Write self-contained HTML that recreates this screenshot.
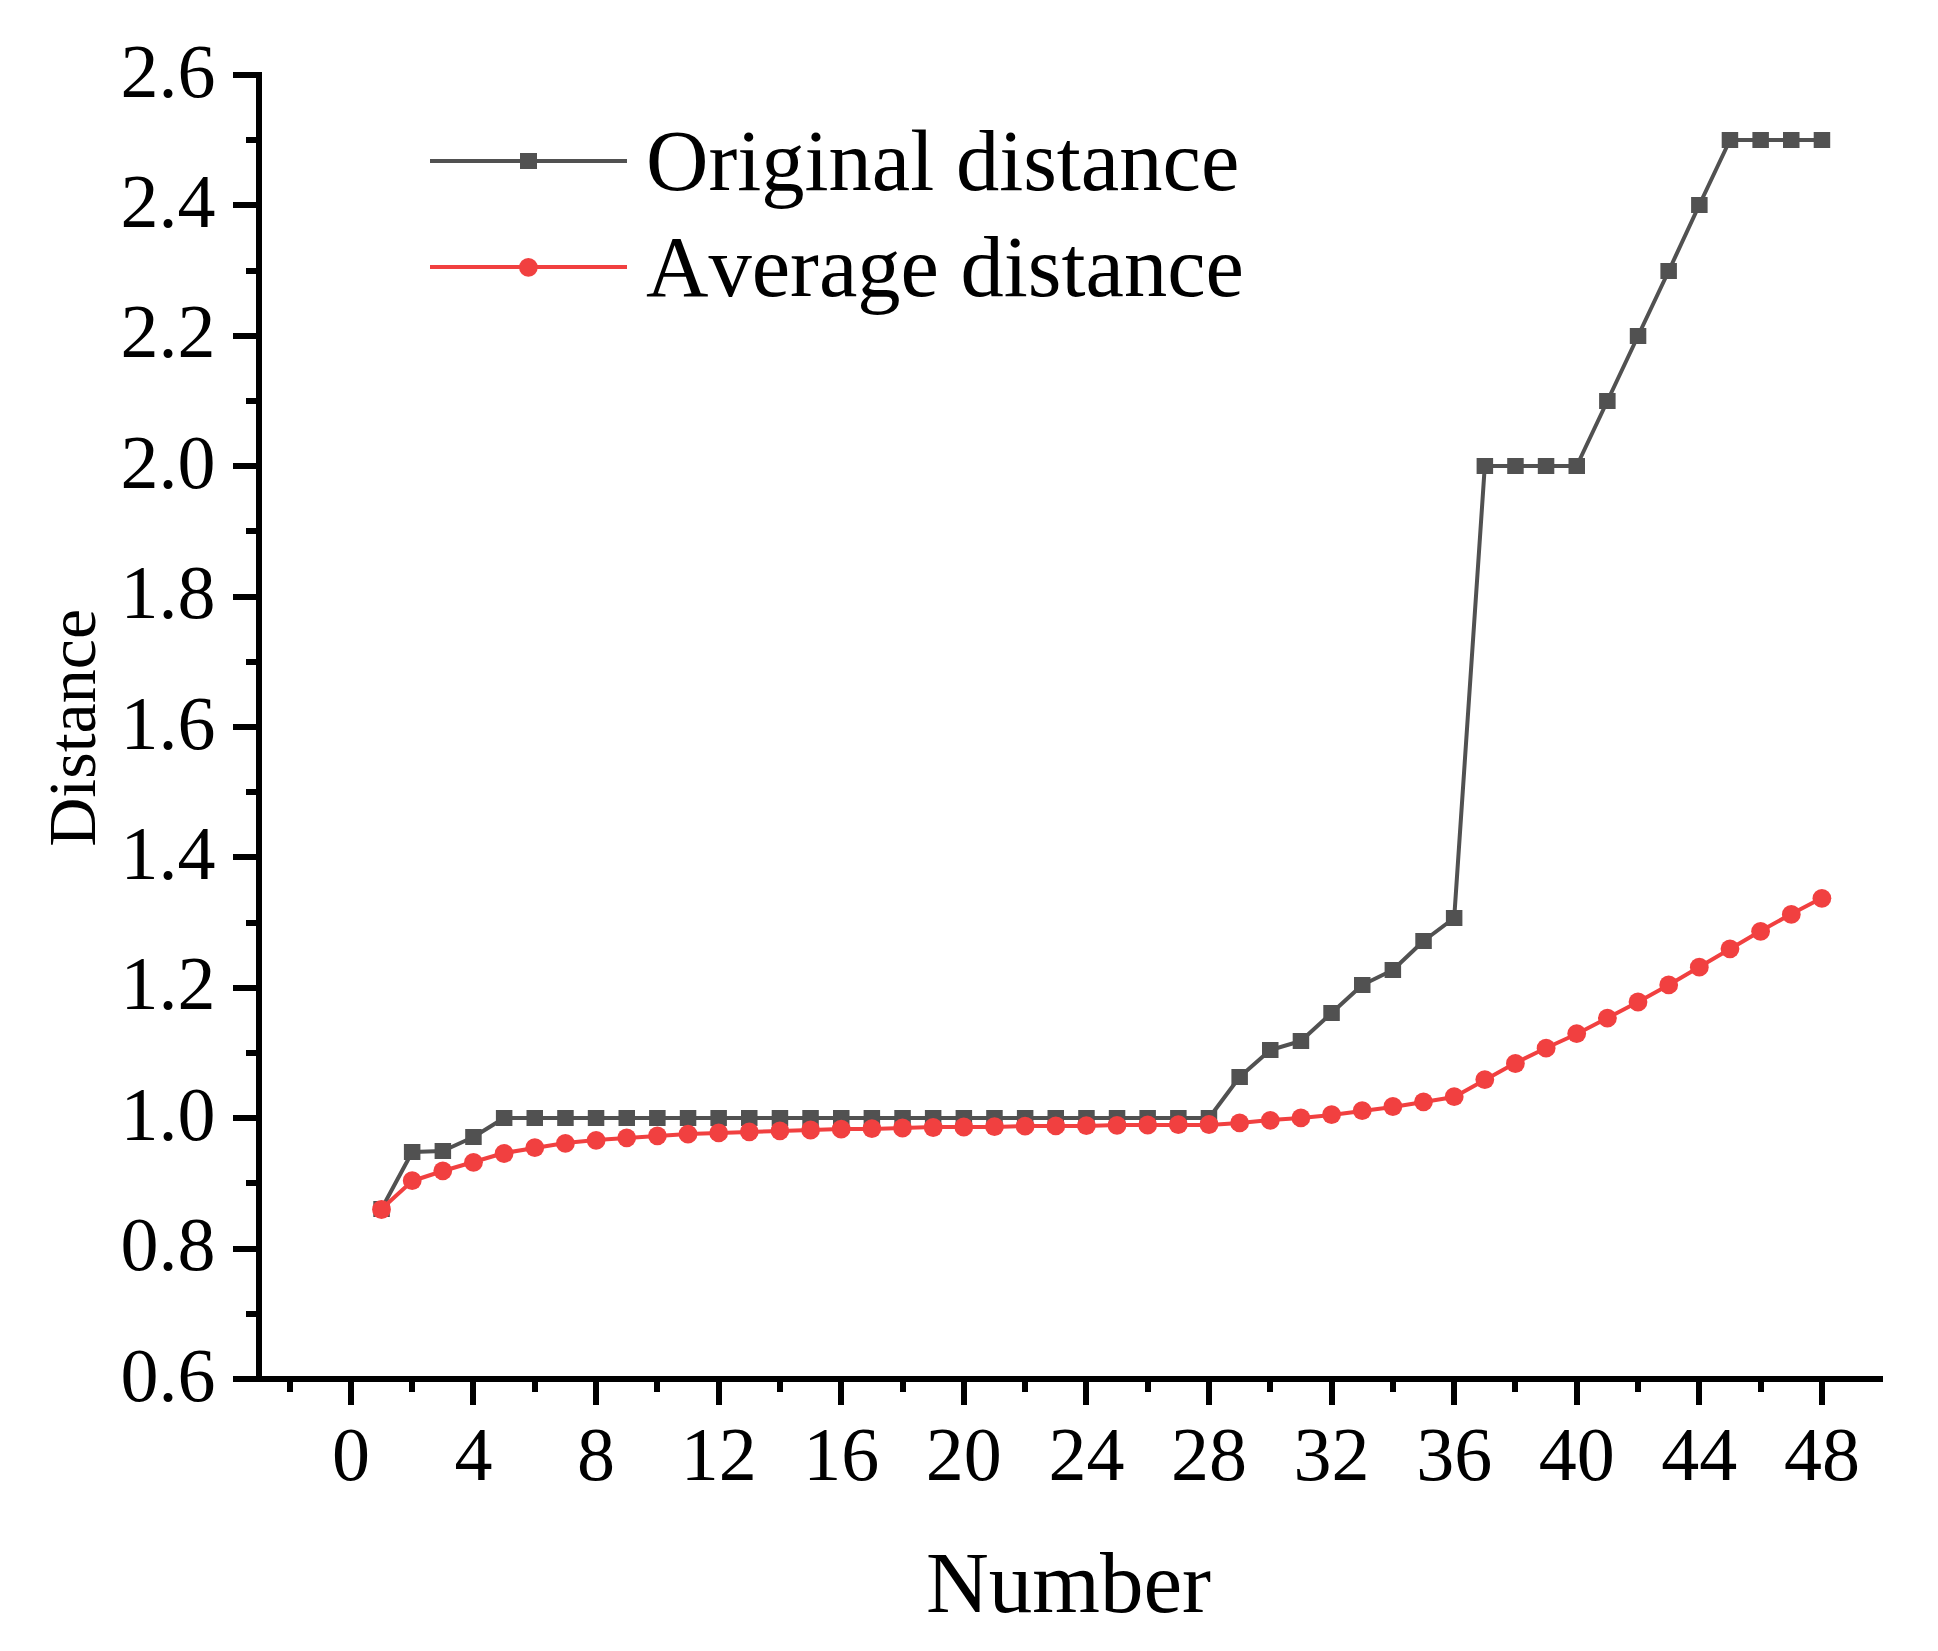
<!DOCTYPE html>
<html lang="en"><head><meta charset="utf-8"><title>Distance vs Number</title>
<style>html,body{margin:0;padding:0;background:#fff}body{width:1938px;height:1651px;overflow:hidden}svg{display:block}text{font-family:"Liberation Serif","Times New Roman",serif;fill:#000;font-kerning:none}</style></head><body>
<svg width="1938" height="1651" viewBox="0 0 1938 1651">
<rect width="1938" height="1651" fill="#fff"/>
<g fill="#000" shape-rendering="crispEdges">
<rect x="256" y="72" width="6" height="1310"/>
<rect x="233" y="1376" width="1650" height="6"/>
<rect x="233" y="1246" width="24" height="6"/>
<rect x="233" y="1115" width="24" height="6"/>
<rect x="233" y="985" width="24" height="6"/>
<rect x="233" y="854" width="24" height="6"/>
<rect x="233" y="724" width="24" height="6"/>
<rect x="233" y="594" width="24" height="6"/>
<rect x="233" y="463" width="24" height="6"/>
<rect x="233" y="333" width="24" height="6"/>
<rect x="233" y="202" width="24" height="6"/>
<rect x="233" y="72" width="24" height="6"/>
<rect x="246" y="1311" width="11" height="6"/>
<rect x="246" y="1180" width="11" height="6"/>
<rect x="246" y="1050" width="11" height="6"/>
<rect x="246" y="920" width="11" height="6"/>
<rect x="246" y="789" width="11" height="6"/>
<rect x="246" y="659" width="11" height="6"/>
<rect x="246" y="528" width="11" height="6"/>
<rect x="246" y="398" width="11" height="6"/>
<rect x="246" y="268" width="11" height="6"/>
<rect x="246" y="137" width="11" height="6"/>
<rect x="348" y="1381" width="6" height="23.5"/>
<rect x="470" y="1381" width="6" height="23.5"/>
<rect x="593" y="1381" width="6" height="23.5"/>
<rect x="716" y="1381" width="6" height="23.5"/>
<rect x="838" y="1381" width="6" height="23.5"/>
<rect x="961" y="1381" width="6" height="23.5"/>
<rect x="1083" y="1381" width="6" height="23.5"/>
<rect x="1206" y="1381" width="6" height="23.5"/>
<rect x="1329" y="1381" width="6" height="23.5"/>
<rect x="1451" y="1381" width="6" height="23.5"/>
<rect x="1574" y="1381" width="6" height="23.5"/>
<rect x="1696" y="1381" width="6" height="23.5"/>
<rect x="1819" y="1381" width="6" height="23.5"/>
<rect x="287" y="1381" width="6" height="11"/>
<rect x="409" y="1381" width="6" height="11"/>
<rect x="532" y="1381" width="6" height="11"/>
<rect x="654" y="1381" width="6" height="11"/>
<rect x="777" y="1381" width="6" height="11"/>
<rect x="900" y="1381" width="6" height="11"/>
<rect x="1022" y="1381" width="6" height="11"/>
<rect x="1145" y="1381" width="6" height="11"/>
<rect x="1267" y="1381" width="6" height="11"/>
<rect x="1390" y="1381" width="6" height="11"/>
<rect x="1512" y="1381" width="6" height="11"/>
<rect x="1635" y="1381" width="6" height="11"/>
<rect x="1758" y="1381" width="6" height="11"/>
</g>
<g font-size="76" text-anchor="end">
<text x="215.5" y="1400.5">0.6</text>
<text x="215.5" y="1270.1">0.8</text>
<text x="215.5" y="1139.7">1.0</text>
<text x="215.5" y="1009.3">1.2</text>
<text x="215.5" y="878.9">1.4</text>
<text x="215.5" y="748.5">1.6</text>
<text x="215.5" y="618.1">1.8</text>
<text x="215.5" y="487.7">2.0</text>
<text x="215.5" y="357.3">2.2</text>
<text x="215.5" y="226.9">2.4</text>
<text x="215.5" y="96.5">2.6</text>
</g>
<g font-size="76" text-anchor="middle">
<text x="350.9" y="1480">0</text>
<text x="473.5" y="1480">4</text>
<text x="596.1" y="1480">8</text>
<text x="718.7" y="1480">12</text>
<text x="841.2" y="1480">16</text>
<text x="963.8" y="1480">20</text>
<text x="1086.4" y="1480">24</text>
<text x="1209.0" y="1480">28</text>
<text x="1331.6" y="1480">32</text>
<text x="1454.2" y="1480">36</text>
<text x="1576.7" y="1480">40</text>
<text x="1699.3" y="1480">44</text>
<text x="1821.9" y="1480">48</text>
</g>
<text x="1068.5" y="1611.5" font-size="87" text-anchor="middle">Number</text>
<text transform="translate(94.5,727.8) rotate(-90)" font-size="68" text-anchor="middle">Distance</text>
<polyline points="381.5,1209 412.2,1152 442.8,1151 473.5,1137 504.1,1118 534.8,1118 565.4,1118 596.1,1118 626.7,1118 657.4,1118 688.0,1118 718.7,1118 749.3,1118 779.9,1118 810.6,1118 841.2,1118 871.9,1118 902.5,1118 933.2,1118 963.8,1118 994.5,1118 1025.1,1118 1055.8,1118 1086.4,1118 1117.0,1118 1147.7,1118 1178.3,1118 1209.0,1118 1239.6,1077 1270.3,1050 1300.9,1041 1331.6,1013 1362.2,985 1392.9,970 1423.5,941 1454.2,918 1484.8,466 1515.4,466 1546.1,466 1576.7,466 1607.4,401 1638.0,336 1668.7,271 1699.3,205 1730.0,140 1760.6,140 1791.3,140 1821.9,140" fill="none" stroke="#515151" stroke-width="4" stroke-linejoin="round"/>
<g fill="#515151">
<rect x="373.3" y="1201" width="16.5" height="16"/>
<rect x="403.9" y="1144" width="16.5" height="16"/>
<rect x="434.6" y="1143" width="16.5" height="16"/>
<rect x="465.2" y="1129" width="16.5" height="16"/>
<rect x="495.9" y="1110" width="16.5" height="16"/>
<rect x="526.5" y="1110" width="16.5" height="16"/>
<rect x="557.2" y="1110" width="16.5" height="16"/>
<rect x="587.8" y="1110" width="16.5" height="16"/>
<rect x="618.5" y="1110" width="16.5" height="16"/>
<rect x="649.1" y="1110" width="16.5" height="16"/>
<rect x="679.8" y="1110" width="16.5" height="16"/>
<rect x="710.4" y="1110" width="16.5" height="16"/>
<rect x="741.0" y="1110" width="16.5" height="16"/>
<rect x="771.7" y="1110" width="16.5" height="16"/>
<rect x="802.3" y="1110" width="16.5" height="16"/>
<rect x="833.0" y="1110" width="16.5" height="16"/>
<rect x="863.6" y="1110" width="16.5" height="16"/>
<rect x="894.3" y="1110" width="16.5" height="16"/>
<rect x="924.9" y="1110" width="16.5" height="16"/>
<rect x="955.6" y="1110" width="16.5" height="16"/>
<rect x="986.2" y="1110" width="16.5" height="16"/>
<rect x="1016.9" y="1110" width="16.5" height="16"/>
<rect x="1047.5" y="1110" width="16.5" height="16"/>
<rect x="1078.2" y="1110" width="16.5" height="16"/>
<rect x="1108.8" y="1110" width="16.5" height="16"/>
<rect x="1139.4" y="1110" width="16.5" height="16"/>
<rect x="1170.1" y="1110" width="16.5" height="16"/>
<rect x="1200.7" y="1110" width="16.5" height="16"/>
<rect x="1231.4" y="1069" width="16.5" height="16"/>
<rect x="1262.0" y="1042" width="16.5" height="16"/>
<rect x="1292.7" y="1033" width="16.5" height="16"/>
<rect x="1323.3" y="1005" width="16.5" height="16"/>
<rect x="1354.0" y="977" width="16.5" height="16"/>
<rect x="1384.6" y="962" width="16.5" height="16"/>
<rect x="1415.3" y="933" width="16.5" height="16"/>
<rect x="1445.9" y="910" width="16.5" height="16"/>
<rect x="1476.6" y="458" width="16.5" height="16"/>
<rect x="1507.2" y="458" width="16.5" height="16"/>
<rect x="1537.8" y="458" width="16.5" height="16"/>
<rect x="1568.5" y="458" width="16.5" height="16"/>
<rect x="1599.1" y="393" width="16.5" height="16"/>
<rect x="1629.8" y="328" width="16.5" height="16"/>
<rect x="1660.4" y="263" width="16.5" height="16"/>
<rect x="1691.1" y="197" width="16.5" height="16"/>
<rect x="1721.7" y="132" width="16.5" height="16"/>
<rect x="1752.4" y="132" width="16.5" height="16"/>
<rect x="1783.0" y="132" width="16.5" height="16"/>
<rect x="1813.7" y="132" width="16.5" height="16"/>
</g>
<polyline points="381.5,1209 412.2,1181 442.8,1171 473.5,1162 504.1,1153 534.8,1148 565.4,1143 596.1,1140 626.7,1138 657.4,1136 688.0,1134 718.7,1133 749.3,1132 779.9,1131 810.6,1130 841.2,1129 871.9,1129 902.5,1128 933.2,1127 963.8,1127 994.5,1127 1025.1,1126 1055.8,1126 1086.4,1126 1117.0,1125 1147.7,1125 1178.3,1125 1209.0,1125 1239.6,1123 1270.3,1120 1300.9,1118 1331.6,1115 1362.2,1111 1392.9,1107 1423.5,1102 1454.2,1097 1484.8,1080 1515.4,1063 1546.1,1048 1576.7,1034 1607.4,1018 1638.0,1002 1668.7,985 1699.3,967 1730.0,949 1760.6,931 1791.3,914 1821.9,898" fill="none" stroke="#F14040" stroke-width="4" stroke-linejoin="round"/>
<g fill="#F14040">
<circle cx="381.5" cy="1209.5" r="9.4"/>
<circle cx="412.2" cy="1180.7" r="9.4"/>
<circle cx="442.8" cy="1170.8" r="9.4"/>
<circle cx="473.5" cy="1162.3" r="9.4"/>
<circle cx="504.1" cy="1153.5" r="9.4"/>
<circle cx="534.8" cy="1147.6" r="9.4"/>
<circle cx="565.4" cy="1143.4" r="9.4"/>
<circle cx="596.1" cy="1140.3" r="9.4"/>
<circle cx="626.7" cy="1137.8" r="9.4"/>
<circle cx="657.4" cy="1135.8" r="9.4"/>
<circle cx="688.0" cy="1134.2" r="9.4"/>
<circle cx="718.7" cy="1132.9" r="9.4"/>
<circle cx="749.3" cy="1131.8" r="9.4"/>
<circle cx="779.9" cy="1130.8" r="9.4"/>
<circle cx="810.6" cy="1130.0" r="9.4"/>
<circle cx="841.2" cy="1129.2" r="9.4"/>
<circle cx="871.9" cy="1128.6" r="9.4"/>
<circle cx="902.5" cy="1128.0" r="9.4"/>
<circle cx="933.2" cy="1127.5" r="9.4"/>
<circle cx="963.8" cy="1127.0" r="9.4"/>
<circle cx="994.5" cy="1126.6" r="9.4"/>
<circle cx="1025.1" cy="1126.2" r="9.4"/>
<circle cx="1055.8" cy="1125.9" r="9.4"/>
<circle cx="1086.4" cy="1125.6" r="9.4"/>
<circle cx="1117.0" cy="1125.3" r="9.4"/>
<circle cx="1147.7" cy="1125.0" r="9.4"/>
<circle cx="1178.3" cy="1124.7" r="9.4"/>
<circle cx="1209.0" cy="1124.5" r="9.4"/>
<circle cx="1239.6" cy="1122.9" r="9.4"/>
<circle cx="1270.3" cy="1120.4" r="9.4"/>
<circle cx="1300.9" cy="1117.9" r="9.4"/>
<circle cx="1331.6" cy="1114.6" r="9.4"/>
<circle cx="1362.2" cy="1110.7" r="9.4"/>
<circle cx="1392.9" cy="1106.5" r="9.4"/>
<circle cx="1423.5" cy="1101.8" r="9.4"/>
<circle cx="1454.2" cy="1096.7" r="9.4"/>
<circle cx="1484.8" cy="1079.6" r="9.4"/>
<circle cx="1515.4" cy="1063.5" r="9.4"/>
<circle cx="1546.1" cy="1048.2" r="9.4"/>
<circle cx="1576.7" cy="1033.6" r="9.4"/>
<circle cx="1607.4" cy="1018.2" r="9.4"/>
<circle cx="1638.0" cy="1002.0" r="9.4"/>
<circle cx="1668.7" cy="984.9" r="9.4"/>
<circle cx="1699.3" cy="967.2" r="9.4"/>
<circle cx="1730.0" cy="948.8" r="9.4"/>
<circle cx="1760.6" cy="931.3" r="9.4"/>
<circle cx="1791.3" cy="914.4" r="9.4"/>
<circle cx="1821.9" cy="898.3" r="9.4"/>
</g>
<line x1="430" y1="161" x2="627" y2="161" stroke="#515151" stroke-width="4"/>
<rect x="520" y="153" width="17" height="16" fill="#515151"/>
<line x1="430" y1="267" x2="627" y2="267" stroke="#F14040" stroke-width="4"/>
<circle cx="528.4" cy="267.3" r="9.4" fill="#F14040"/>
<text x="646" y="189.5" font-size="86.5">Original distance</text>
<text x="646" y="295.5" font-size="86.5">Average distance</text>
</svg></body></html>
